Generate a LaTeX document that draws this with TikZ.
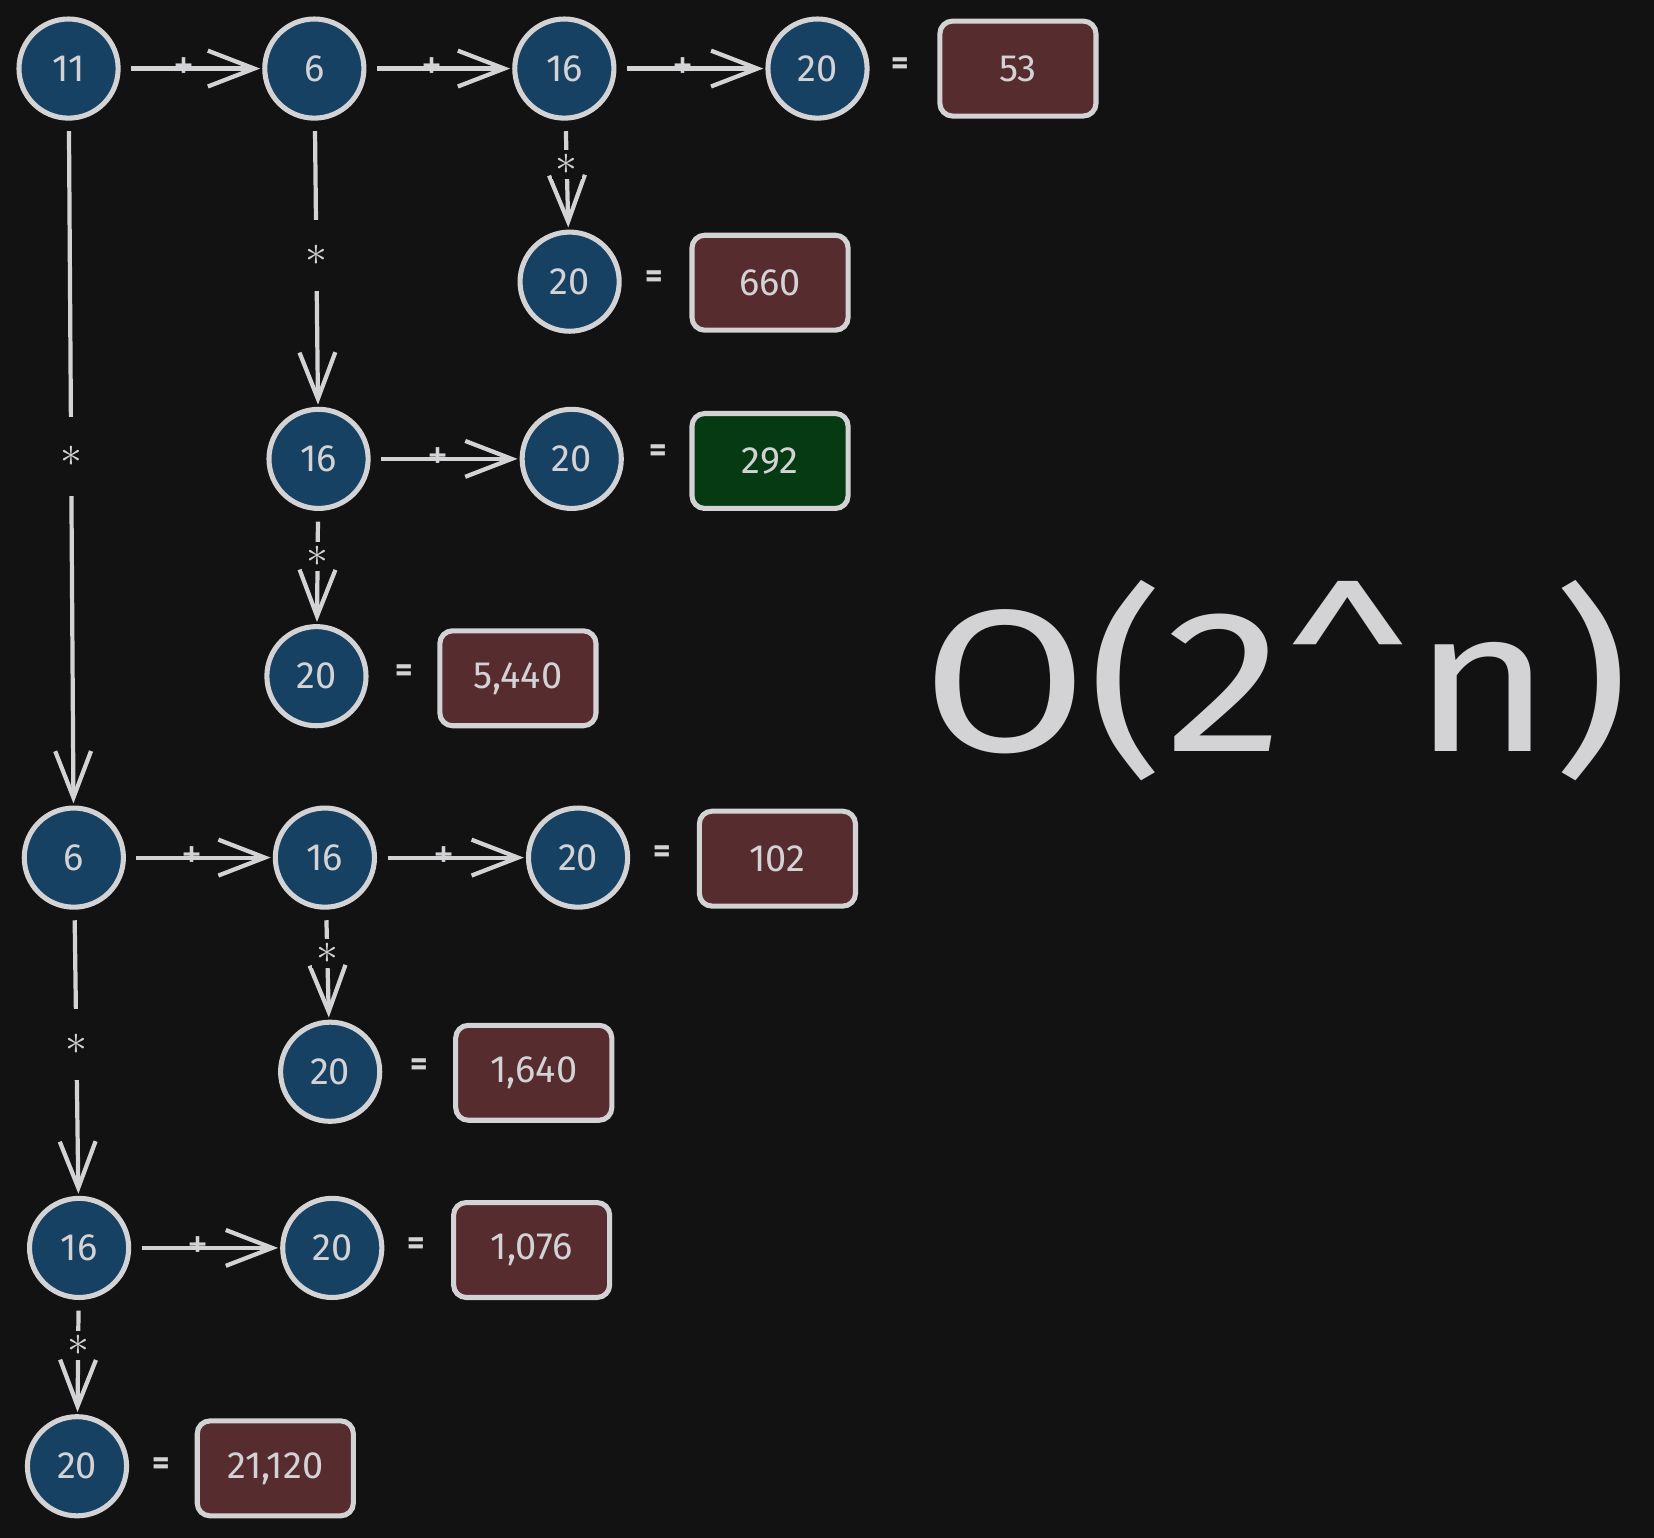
\documentclass[tikz,border=0pt]{standalone}
\usepackage{fontspec}
\setmainfont{Fira Sans}
\usetikzlibrary{arrows.meta}

\definecolor{bg}{HTML}{121212}
\definecolor{ink}{HTML}{D3D3D6}
\definecolor{callblue}{HTML}{164163}
\definecolor{sumred}{HTML}{572C2F}
\definecolor{sumgreen}{HTML}{063A12}

\tikzset{
  call/.style={draw=ink, fill=callblue, circle, line width=2.4pt,
    minimum size=47pt, inner sep=0pt, text=ink,
    font=\fontsize{18}{20}\selectfont},
  total/.style={draw=ink, rounded corners=6pt, line width=2.4pt,
    minimum width=74pt, minimum height=45pt, text=ink,
    font=\fontsize{18}{20}\selectfont},
  equals/.style={text=ink, font=\fontsize{16}{16}\selectfont\bfseries},
  link/.style={draw=ink, line width=2pt, shorten <=5pt, shorten >=1pt,
    -{Straight Barb[length=22pt, width=17pt]}},
  plus/.style={text=ink, inner sep=0pt, pos=0.45,
    font=\fontsize{20}{20}\selectfont},
  times/.style={fill=bg, text=ink, inner xsep=2pt,
    font=\fontsize{22}{22}\selectfont}
}

\begin{document}
\begin{tikzpicture}[x=0.5pt, y=-0.5pt]
    \path [use as bounding box, fill=bg] (0,0) rectangle (1568,1458);

    % Calls
    \foreach \nm/\val/\x/\y in {a/11/65/65, b/6/298/65, c/16/535/65,
        d/20/775/65, e/20/540/267, f/16/302/435, g/20/542/435,
        h/20/300/641, i/6/70/813, j/16/308/813, k/20/548/813,
        l/20/313/1016, m/16/75/1183, n/20/315/1183, o/20/73/1390} {
      \path (\x, \y) node [call] (\nm) {\val};
    }

    % Totals
    \foreach \s/\ex/\ey/\bx/\by/\val/\col in {d/853/63/965/65/53/sumred,
        e/620/265/730/268/660/sumred, g/624/430/730/437/292/sumgreen,
        h/383/638/491/643/{5,440}/sumred, k/628/810/737/814/102/sumred,
        l/397/1012/506/1017/{1,640}/sumred, n/395/1181/504/1185/{1,076}/sumred,
        o/153/1390/261/1392/{21,120}/sumred} {
      \path (\ex, \ey) node [equals] (eq\s) {=};
      \path (\bx, \by) node [total, fill=\col] (r\s) {\val};
    }

    % Connections
    \foreach \s/\t in {a/b, b/c, c/d, f/g, i/j, j/k, m/n} {
      \draw [link] (\s) -- node [plus] (p\s\t) {+} (\t);
    }
    \foreach \s/\t/\p/\gap in {c/e/0.4/2pt, b/f/0.47/12pt, f/h/0.4/2pt,
        a/i/0.49/14pt, j/l/0.4/2pt, i/m/0.47/12pt, m/o/0.4/2pt} {
      \draw [link] (\s) -- node [times, pos=\p, inner ysep=\gap] (t\s\t)
            {$\ast$} (\t);
    }

    % Complexity
    \path (1210, 645) node [text=ink, xscale=1.18,
          font=\fontsize{96}{96}\selectfont]
          (big) {O(2\textasciicircum n)};
\end{tikzpicture}
\end{document}
